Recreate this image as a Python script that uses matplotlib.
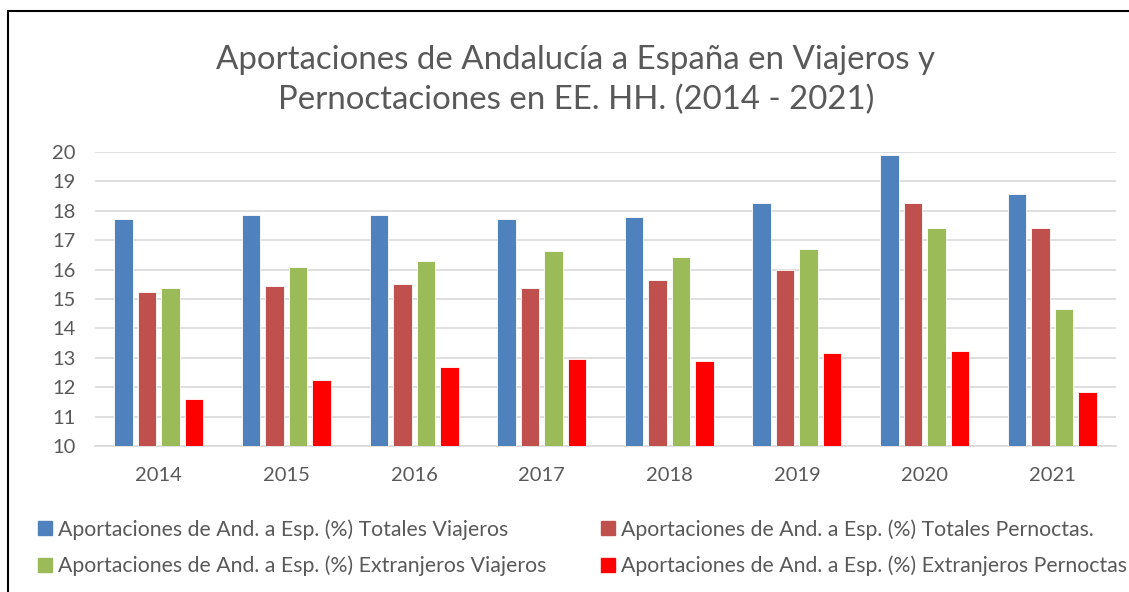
import numpy as np
import matplotlib
matplotlib.use('Agg')
import matplotlib.pyplot as plt
from matplotlib.patches import Rectangle, Patch

years = ['2014', '2015', '2016', '2017', '2018', '2019', '2020', '2021']
totales_viajeros = [17.72, 17.87, 17.87, 17.72, 17.79, 18.27, 19.91, 18.58]
totales_pernoctas = [15.25, 15.45, 15.51, 15.38, 15.65, 15.98, 18.27, 17.41]
extranjeros_viajeros = [15.38, 16.10, 16.29, 16.63, 16.43, 16.70, 17.41, 14.65]
extranjeros_pernoctas = [11.59, 12.24, 12.70, 12.96, 12.89, 13.15, 13.22, 11.84]

labels = ['Aportaciones de And. a Esp. (%) Totales Viajeros',
          'Aportaciones de And. a Esp. (%) Totales Pernoctas.',
          'Aportaciones de And. a Esp. (%) Extranjeros Viajeros',
          'Aportaciones de And. a Esp. (%) Extranjeros Pernoctas']
colors = ['#4f81bd', '#c0504d', '#9bbb59', '#ff0000']

plt.rcParams['font.family'] = ['Lato', 'DejaVu Sans']
grey = '#595959'

fig = plt.figure(figsize=(11.29, 5.92), dpi=100)
ax = fig.add_axes([0.0841, 0.2466, 0.9044, 0.4966])

x = np.arange(len(years))
series = [totales_viajeros, totales_pernoctas, extranjeros_viajeros, extranjeros_pernoctas]
slot = 0.184
handles = []
for i, vals in enumerate(series):
    ax.bar(x + (i - 1.5) * slot, np.array(vals) - 10, bottom=10, width=0.145,
           color=colors[i], edgecolor='white', linewidth=0.6, zorder=3)
    handles.append(Patch(color=colors[i], label=labels[i]))

ax.set_ylim(10, 20)
ax.set_xlim(-0.5, 7.5)
ax.set_yticks(range(10, 21))
ax.set_xticks(x)
ax.set_xticklabels(years)
ax.grid(axis='y', color='#d9d9d9', linewidth=1.2, zorder=0)
for s in ['top', 'right', 'left']:
    ax.spines[s].set_visible(False)
ax.spines['bottom'].set_color('#d9d9d9')
ax.spines['bottom'].set_linewidth(1.2)
ax.tick_params(length=0, labelsize=14.5, colors=grey)
ax.tick_params(axis='y', pad=14)
ax.tick_params(axis='x', pad=15)

fig.text(576 / 1129, 1 - 80 / 592,
         'Aportaciones de Andalucía a España en Viajeros y\nPernoctaciones en EE. HH. (2014 - 2021)',
         ha='center', va='center', fontsize=23.8, color=grey, linespacing=1.4)

# legend: two columns, Excel fills row by row
leg_kw = dict(loc='upper left', frameon=False, fontsize=15.3, labelcolor=grey,
              handlelength=0.66, handleheight=0.66, handletextpad=0.28,
              labelspacing=0.75, borderpad=0, borderaxespad=0)
fig.legend([handles[0], handles[2]], [labels[0], labels[2]],
           bbox_to_anchor=(38 / 1129, 1 - 519 / 592), **leg_kw)
fig.legend([handles[1], handles[3]], [labels[1], labels[3]],
           bbox_to_anchor=(601 / 1129, 1 - 519 / 592), **leg_kw)

# outer frame (only left and top edges fall inside the picture)
fig.patches.append(Rectangle((8 / 1129, -0.2), 1.2, 1.2 - 11 / 592,
                             transform=fig.transFigure, fill=False,
                             edgecolor='black', linewidth=1.5))

fig.savefig('out.png', dpi=100)
